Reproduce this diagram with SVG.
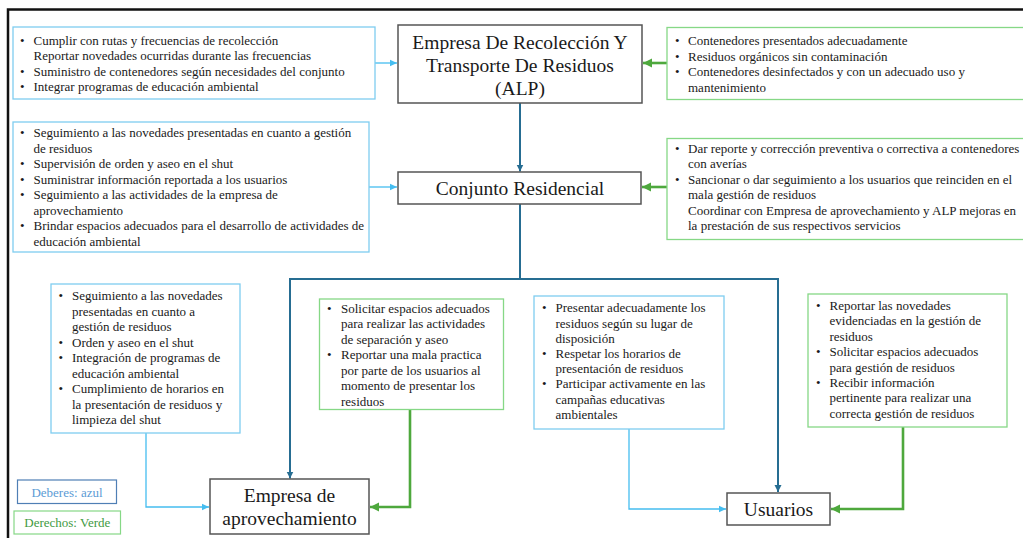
<svg xmlns="http://www.w3.org/2000/svg" width="1023" height="538" viewBox="0 0 1023 538" font-family="'Liberation Serif', 'Times New Roman', Times, serif">
<style>
text{font-family:'Liberation Serif','Times New Roman',Times,serif;fill:#1a1a1a}
.t{font-size:13px}
.n{font-size:19.5px;text-anchor:middle}
.node{fill:#fff;stroke:#555;stroke-width:1.5}
.db{fill:#fff;stroke:#7fcdf0;stroke-width:1.3}
.dr{fill:#fff;stroke:#86d886;stroke-width:1.3}
.lb{fill:none;stroke:#45bdf0;stroke-width:1.3}
.dk{fill:none;stroke:#266d92;stroke-width:2}
.gr{fill:none;stroke:#4ea83d;stroke-width:2.6}
</style>
<defs>
<marker id="aL" markerUnits="userSpaceOnUse" markerWidth="8" markerHeight="8" refX="7" refY="4" orient="auto"><path d="M0,0.8 L7,4 L0,7.2z" fill="#45bdf0"/></marker>
<marker id="aD" markerUnits="userSpaceOnUse" markerWidth="8" markerHeight="8" refX="7" refY="4" orient="auto"><path d="M0,0.5 L7,4 L0,7.5z" fill="#266d92"/></marker>
<marker id="aG" markerUnits="userSpaceOnUse" markerWidth="10" markerHeight="10" refX="9" refY="5" orient="auto"><path d="M0,0.5 L9,5 L0,9.5z" fill="#4ea83d"/></marker>
</defs>
<rect width="1023" height="538" fill="#fff"/>
<g id="frame"><path d="M8,538 V9.5 H1023" fill="none" stroke="#111" stroke-width="2.5"/></g>

<g id="connectors">
<path class="lb" d="M375,63 H397" marker-end="url(#aL)"/>
<path class="gr" d="M667,63 H643" marker-end="url(#aG)"/>
<path class="dk" d="M520,103 V171.5" marker-end="url(#aD)"/>
<path class="lb" d="M369,187 H397" marker-end="url(#aL)"/>
<path class="gr" d="M667,187 H642" marker-end="url(#aG)"/>
<path class="dk" d="M520,204 V279 H290 V478.5" marker-end="url(#aD)"/>
<path class="dk" d="M520,279 H778 V492" marker-end="url(#aD)"/>
<path class="lb" d="M146,433 V507 H209" marker-end="url(#aL)"/>
<path class="gr" d="M410,409 V507 H370" marker-end="url(#aG)"/>
<path class="lb" d="M629,429 V509 H726" marker-end="url(#aL)"/>
<path class="gr" d="M903,427 V509 H831" marker-end="url(#aG)"/>
</g>

<g id="alp">
<rect class="node" x="398" y="25" width="244" height="78"/>
<text class="n" x="520" y="48.5">Empresa De Recolección Y</text>
<text class="n" x="520" y="71.5">Transporte De Residuos</text>
<text class="n" x="520" y="94.5">(ALP)</text>
</g>
<g id="conjunto">
<rect class="node" x="398" y="172" width="243" height="32"/>
<text class="n" x="520" y="195">Conjunto Residencial</text>
</g>
<g id="aprovechamiento">
<rect class="node" x="210" y="479" width="159" height="55"/>
<text class="n" x="289.5" y="502">Empresa de</text>
<text class="n" x="289.5" y="525">aprovechamiento</text>
</g>
<g id="usuarios">
<rect class="node" x="727" y="493" width="103" height="32"/>
<text class="n" x="778.5" y="515.5">Usuarios</text>
</g>

<g id="deberes-alp">
<rect class="db" x="13" y="27" width="362" height="72"/>
<text class="t"><tspan x="20" y="44.5">•</tspan><tspan x="33.5" y="44.5">Cumplir con rutas y frecuencias de recolección</tspan><tspan x="33.5" y="60">Reportar novedades ocurridas durante las frecuencias</tspan><tspan x="20" y="75.5">•</tspan><tspan x="33.5" y="75.5">Suministro de contenedores según necesidades del conjunto</tspan><tspan x="20" y="91">•</tspan><tspan x="33.5" y="91">Integrar programas de educación ambiental</tspan></text>
</g>
<g id="derechos-alp">
<rect class="dr" x="667" y="27.5" width="360" height="72"/>
<text class="t"><tspan x="675" y="45">•</tspan><tspan x="688" y="45">Contenedores presentados adecuadamente</tspan><tspan x="675" y="60.5">•</tspan><tspan x="688" y="60.5">Residuos orgánicos sin contaminación</tspan><tspan x="675" y="76">•</tspan><tspan x="688" y="76">Contenedores desinfectados y con un adecuado uso y</tspan><tspan x="688" y="91.5">mantenimiento</tspan></text>
</g>
<g id="deberes-conjunto">
<rect class="db" x="13" y="122" width="356" height="130"/>
<text class="t"><tspan x="20" y="137">•</tspan><tspan x="33.5" y="137">Seguimiento a las novedades presentadas en cuanto a gestión</tspan><tspan x="33.5" y="152.5">de residuos</tspan><tspan x="20" y="168">•</tspan><tspan x="33.5" y="168">Supervisión de orden y aseo en el shut</tspan><tspan x="20" y="183.5">•</tspan><tspan x="33.5" y="183.5">Suministrar información reportada a los usuarios</tspan><tspan x="20" y="199">•</tspan><tspan x="33.5" y="199">Seguimiento a las actividades de la empresa de</tspan><tspan x="33.5" y="214.5">aprovechamiento</tspan><tspan x="20" y="230">•</tspan><tspan x="33.5" y="230">Brindar espacios adecuados para el desarrollo de actividades de</tspan><tspan x="33.5" y="245.5">educación ambiental</tspan></text>
</g>
<g id="derechos-conjunto">
<rect class="dr" x="667" y="138.5" width="360" height="101"/>
<text class="t"><tspan x="675" y="153">•</tspan><tspan x="688" y="153">Dar reporte y corrección preventiva o correctiva a contenedores</tspan><tspan x="688" y="168.4">con averías</tspan><tspan x="675" y="183.8">•</tspan><tspan x="688" y="183.8">Sancionar o dar seguimiento a los usuarios que reinciden en el</tspan><tspan x="688" y="199.2">mala gestión de residuos</tspan><tspan x="688" y="214.6">Coordinar con Empresa de aprovechamiento y ALP mejoras en</tspan><tspan x="688" y="230">la prestación de sus respectivos servicios</tspan></text>
</g>
<g id="deberes-aprovechamiento">
<rect class="db" x="51" y="284" width="189" height="149"/>
<text class="t"><tspan x="58.5" y="300">•</tspan><tspan x="72" y="300">Seguimiento a las novedades</tspan><tspan x="72" y="315.5">presentadas en cuanto a</tspan><tspan x="72" y="331">gestión de residuos</tspan><tspan x="58.5" y="346.5">•</tspan><tspan x="72" y="346.5">Orden y aseo en el shut</tspan><tspan x="58.5" y="362">•</tspan><tspan x="72" y="362">Integración de programas de</tspan><tspan x="72" y="377.5">educación ambiental</tspan><tspan x="58.5" y="393">•</tspan><tspan x="72" y="393">Cumplimiento de horarios en</tspan><tspan x="72" y="408.5">la presentación de residuos y</tspan><tspan x="72" y="424">limpieza del shut</tspan></text>
</g>
<g id="derechos-aprovechamiento">
<rect class="dr" x="319.5" y="299" width="184" height="110.5"/>
<text class="t"><tspan x="327" y="312.5">•</tspan><tspan x="341" y="312.5">Solicitar espacios adecuados</tspan><tspan x="341" y="328">para realizar las actividades</tspan><tspan x="341" y="343.5">de separación y aseo</tspan><tspan x="327" y="359">•</tspan><tspan x="341" y="359">Reportar una mala practica</tspan><tspan x="341" y="374.5">por parte de los usuarios al</tspan><tspan x="341" y="390">momento de presentar los</tspan><tspan x="341" y="405.5">residuos</tspan></text>
</g>
<g id="deberes-usuarios">
<rect class="db" x="534" y="296" width="190" height="133"/>
<text class="t"><tspan x="542" y="312.3">•</tspan><tspan x="555.5" y="312.3">Presentar adecuadamente los</tspan><tspan x="555.5" y="327.5">residuos según su lugar de</tspan><tspan x="555.5" y="342.7">disposición</tspan><tspan x="542" y="357.9">•</tspan><tspan x="555.5" y="357.9">Respetar los horarios de</tspan><tspan x="555.5" y="373.1">presentación de residuos</tspan><tspan x="542" y="388.3">•</tspan><tspan x="555.5" y="388.3">Participar activamente en las</tspan><tspan x="555.5" y="403.5">campañas educativas</tspan><tspan x="555.5" y="418.7">ambientales</tspan></text>
</g>
<g id="derechos-usuarios">
<rect class="dr" x="808" y="294" width="199" height="133"/>
<text class="t"><tspan x="816" y="310">•</tspan><tspan x="829.5" y="310">Reportar las novedades</tspan><tspan x="829.5" y="325.4">evidenciadas en la gestión de</tspan><tspan x="829.5" y="340.8">residuos</tspan><tspan x="816" y="356.2">•</tspan><tspan x="829.5" y="356.2">Solicitar espacios adecuados</tspan><tspan x="829.5" y="371.6">para gestión de residuos</tspan><tspan x="816" y="387">•</tspan><tspan x="829.5" y="387">Recibir información</tspan><tspan x="829.5" y="402.4">pertinente para realizar una</tspan><tspan x="829.5" y="417.8">correcta gestión de residuos</tspan></text>
</g>

<g id="legend-deberes">
<rect x="17.5" y="480" width="99" height="23.5" fill="#fff" stroke="#4f7fb5" stroke-width="1.2"/>
<text class="t" x="67" y="496.5" text-anchor="middle" style="fill:#5b9bd5">Deberes: azul</text>
</g>
<g id="legend-derechos">
<rect x="14" y="511" width="106.5" height="23" fill="#fff" stroke="#86d886" stroke-width="1.2"/>
<text class="t" x="67.3" y="527" text-anchor="middle" style="fill:#3f9a3f">Derechos: Verde</text>
</g>
</svg>
